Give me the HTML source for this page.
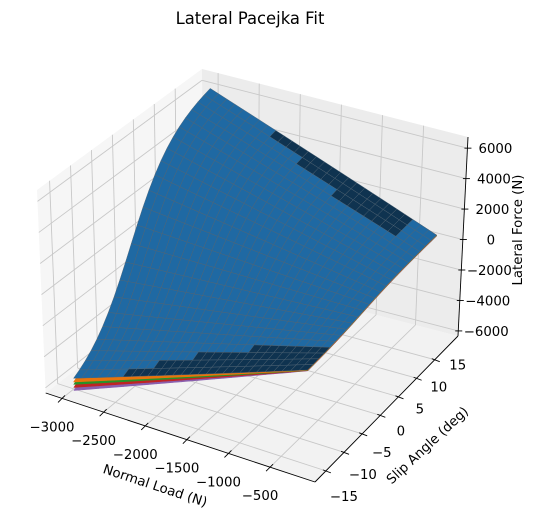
<!DOCTYPE html>
<html><head><meta charset="utf-8">
<style>
html,body{margin:0;padding:0;background:#fff;}
svg{display:block;font-family:"DejaVu Sans","Liberation Sans",sans-serif;}
</style></head>
<body>
<svg id="chart" width="539" height="522" viewBox="0 0 539 522">
<text x="250" y="24" font-size="16.4" text-anchor="middle">Lateral Pacejka Fit</text>
<g id="panes"></g>
<g id="grid"></g>
<g id="axes"></g>
<g id="surf"></g>
<g id="labels"></g>
<text x="155" y="490" font-size="13.3" text-anchor="middle" transform="rotate(18.3 155 486)">Normal Load (N)</text>
<text x="427" y="450" font-size="13.3" text-anchor="middle" transform="rotate(-43 427 445)">Slip Angle (deg)</text>
<text x="517" y="235" font-size="13.3" text-anchor="middle" transform="rotate(-90 517 230)">Lateral Force (N)</text>
</svg>
<script>
// ---- data ----
const loads = [-3000,-2900,-2800,-2700,-2600,-2500,-2400,-2300,-2200,-2100,-2000,-1900,-1800,-1700,-1600,-1500,-1400,-1300,-1200,-1100,-1000,-900,-800,-700,-600,-500,-400,-300,-200];
const slips = [-15,-13.5,-12,-10.5,-9,-7.5,-6,-4.5,-3,-1.5,0,1.5,3,4.5,6,7.5,9,10.5,12,13.5,15,16.5,18,19.5];
const layerNames = ["fit-5","fit-4","fit-3","fit-2","fit-1"];
const layerColors = ["#8a5fae","#c02424","#289228","#e8740d","#1f69a3"];
const layerMu = [2.22,2.22,2.22,2.235,2.22];
const layerB = [0.075,0.075,0.075,0.075,0.075];
const layerC = [1.2,1.2,1.2,1.2,1.2];
const layerShift = [0,0,0,0,0];
const layerOffset = [0.26,0.195,0.13,0.065,0];
const xTicks = [-3000,-2500,-2000,-1500,-1000,-500];
const yTicks = [-15,-10,-5,0,5,10,15];
const zTicks = [-6000,-4000,-2000,0,2000,4000,6000];

// ---- projection (trilinear between box corners) ----
const XMIN=-3196,XMAX=40,YMIN=-18,YMAX=21.4,ZMIN=-6333,ZMAX=6732;
const C={c000:[45.7,393],c100:[315,482],c010:[203,270],c110:[458,336],
 c001:[37,190],c101:[319,274],c011:[202,69],c111:[468,137]};
function lerp(a,b,t){return [a[0]+(b[0]-a[0])*t,a[1]+(b[1]-a[1])*t];}
function uvw(x,y,z){return [(x-XMIN)/(XMAX-XMIN),(y-YMIN)/(YMAX-YMIN),(z-ZMIN)/(ZMAX-ZMIN)];}
function P(x,y,z){
  const [u,v,w]=uvw(x,y,z);
  const b0=lerp(C.c000,C.c100,u),b1=lerp(C.c010,C.c110,u);
  const t0=lerp(C.c001,C.c101,u),t1=lerp(C.c011,C.c111,u);
  return lerp(lerp(b0,b1,v),lerp(t0,t1,v),w);
}
const NS="http://www.w3.org/2000/svg";
function mk(tag,attrs,parent){const e=document.createElementNS(NS,tag);for(const k in attrs)e.setAttribute(k,attrs[k]);parent.appendChild(e);return e;}
function pts(a){return a.map(p=>p[0].toFixed(2)+","+p[1].toFixed(2)).join(" ");}

// panes
const panes=document.getElementById("panes");
let e;
e=mk("polygon",{points:pts([C.c000,C.c100,C.c110,C.c010]),fill:"#f2f2f2"},panes);


e=mk("polygon",{points:pts([C.c000,C.c010,C.c011,C.c001]),fill:"#f6f6f6"},panes);


e=mk("polygon",{points:pts([C.c010,C.c110,C.c111,C.c011]),fill:"#ececec"},panes);



// grid
const grid=document.getElementById("grid");
function gl(a,b,name){const l=mk("line",{x1:a[0],y1:a[1],x2:b[0],y2:b[1],stroke:"#c8c8c8","stroke-width":0.9},grid);

}
xTicks.forEach(x=>{gl(P(x,YMIN,ZMIN),P(x,YMAX,ZMIN),"x-gridline");gl(P(x,YMAX,ZMIN),P(x,YMAX,ZMAX),"x-gridline");});
yTicks.forEach(y=>{gl(P(XMIN,y,ZMIN),P(XMAX,y,ZMIN),"y-gridline");gl(P(XMIN,y,ZMIN),P(XMIN,y,ZMAX),"y-gridline");});
zTicks.forEach(z=>{gl(P(XMIN,YMIN,z),P(XMIN,YMAX,z),"z-gridline");gl(P(XMIN,YMAX,z),P(XMAX,YMAX,z),"z-gridline");});

// axes lines + ticks + labels
const axes=document.getElementById("axes"),labels=document.getElementById("labels");
function al(a,b,name){const l=mk("line",{x1:a[0],y1:a[1],x2:b[0],y2:b[1],stroke:"#000","stroke-width":0.9},axes);

}
al(C.c000,C.c100,"x-axis-line");al(C.c100,C.c110,"y-axis-line");al(C.c110,C.c111,"z-axis-line");
function lab(x,y,s,name){const t=mk("text",{x:x,y:y,"font-size":13.3,"text-anchor":"middle"},labels);t.textContent=s;

}
function fmt(n){return n<0?"\u2212"+(-n):String(n);}
xTicks.forEach(x=>{const p=P(x,YMIN,ZMIN);al([p[0]+3,p[1]-3],[p[0]-4,p[1]+4],"x-tick");lab(p[0]-10,p[1]+33,fmt(x),"x-tick-label");});
yTicks.forEach(y=>{const p=P(XMAX,y,ZMIN);const t=(y-yTicks[0])/(yTicks[yTicks.length-1]-yTicks[0]);
 al([p[0]-3,p[1]-1],[p[0]+5,p[1]+2],"y-tick");lab(p[0]+18+5*t,p[1]+30-20*t,fmt(y),"y-tick-label");});
zTicks.forEach(z=>{const p=P(XMAX,YMAX,z);al([p[0]-3,p[1]],[p[0]+4,p[1]],"z-tick");lab(p[0]+28,p[1]+5,fmt(z),"z-tick-label");});

// surfaces
const surf=document.getElementById("surf");
function F(i,x,y){return layerMu[i]*(-x)*Math.sin(layerC[i]*Math.atan(layerB[i]*(y-layerShift[i])))+layerOffset[i]*x;}
function darkFace(x,yIdx){
  const nY=slips.length-1;
  let front=(x>-2450?1:0)+(x>-2100?1:0)+(x>-1700?1:0)+(x>-1100?1:0);
  if(yIdx<front) return true;
  if(x<-450){let back=(x>-2200?1:0)+(x>-1800?1:0)+(x>-1300?1:0);
    if(yIdx>=nY-back) return true;}
  return false;
}
layerNames.forEach((nm,i)=>{
  const g=mk("g",{},surf);
  
  
  const faces=[];
  for(let a=0;a<loads.length-1;a++)for(let b=0;b<slips.length-1;b++){
    const corners=[[a,b],[a+1,b],[a+1,b+1],[a,b+1]].map(([ia,ib])=>[loads[ia],slips[ib],F(i,loads[ia],slips[ib])]);
    let d=0;corners.forEach(c=>{const q=uvw(c[0],c[1],c[2]);d+=0.433*q[0]-0.75*q[1]+0.375*q[2];});
    faces.push({corners,d,a,b});
  }
  faces.sort((p,q)=>p.d-q.d);
  const isTop=(i===layerNames.length-1);
  faces.forEach(f=>{
    const xc=(loads[f.a]+loads[f.a+1])/2;
    let fill=layerColors[i];
    if(isTop&&darkFace(xc,f.b)) fill="#0f3350";
    const poly=mk("polygon",{points:pts(f.corners.map(c=>P(c[0],c[1],c[2]))),fill:fill,
      stroke:isTop?"#4f6577":fill,"stroke-width":isTop?0.45:0.6,"stroke-linejoin":"round"},g);
    
    
  });
});
</script>
</body></html>
